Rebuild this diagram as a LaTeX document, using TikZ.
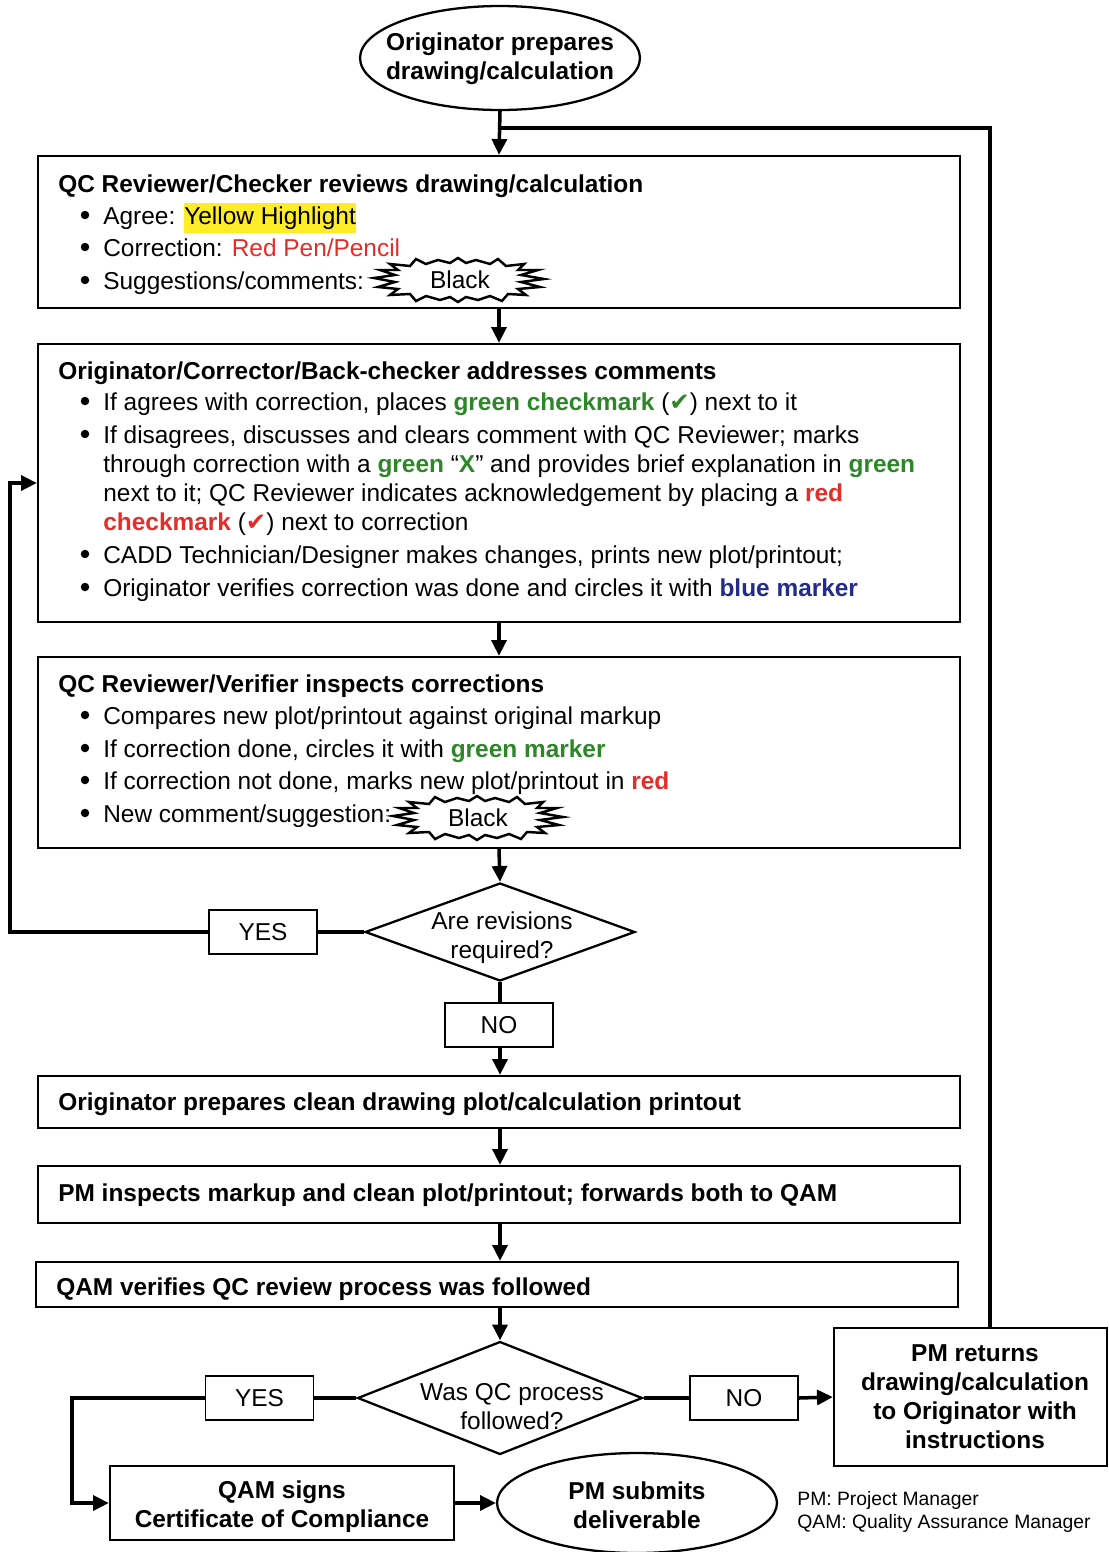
\documentclass[tikz,border=0pt]{standalone}
\usepackage{fontspec}
\setmainfont{Liberation Sans}
\newfontfamily\symfont{DejaVu Sans}
\usetikzlibrary{arrows.meta,shapes.geometric,fit}
\definecolor{qcgreen}{RGB}{45,135,40}
\definecolor{qcred}{RGB}{228,45,40}
\definecolor{qcblue}{RGB}{35,45,135}
\definecolor{qcyellow}{RGB}{255,236,40}
\newcommand{\gB}[1]{\textbf{\color{qcgreen}#1}}
\newcommand{\rB}[1]{\textbf{\color{qcred}#1}}
\newcommand{\bB}[1]{\textbf{\color{qcblue}#1}}
\newcommand{\chk}{{\symfont ✔}}
\newcommand{\hlt}[1]{{\setlength{\fboxsep}{0pt}\colorbox{qcyellow}{\strut #1}}}
% jagged "explosion" outline around a comment label, drawn in pixel units about its centre
\newcommand{\burstoutline}[1]{%
  \draw[line width=1.4pt, line join=miter, shift={(#1)}]
    (-60,-10) -- (-78,-10) -- (-63,-5) -- (-84,-2) -- (-63,2) -- (-80,7) -- (-60,9)
    -- (-68,15) -- (-48,14) -- (-42,21) -- (-32,16) -- (-18,20) -- (-8,17) -- (0,22)
    -- (8,17) -- (20,20) -- (32,16) -- (44,21) -- (50,14) -- (68,15) -- (60,9)
    -- (82,7) -- (63,2) -- (86,-1) -- (63,-5) -- (80,-10) -- (60,-10) -- (66,-16)
    -- (48,-14) -- (40,-21) -- (32,-16) -- (18,-20) -- (8,-17) -- (0,-22) -- (-8,-17)
    -- (-20,-20) -- (-32,-16) -- (-42,-21) -- (-48,-14) -- (-68,-16) -- cycle;}
\begin{document}
\begin{tikzpicture}[x=0.02cm,y=-0.02cm,
  every node/.style={font=\fontsize{13.9}{17}\selectfont},
  box/.style={draw, line width=1.3pt, inner sep=0pt, rectangle},
  txt/.style={anchor=base west, inner sep=0pt},
  blt/.style={circle, fill, inner sep=0pt, minimum size=0.17cm},
  ctr/.style={align=center, inner sep=0pt, font=\fontsize{13.9}{16.5}\selectfont\bfseries},
  oval/.style={draw, ellipse, line width=1.3pt, inner sep=0pt},
  decision/.style={draw, diamond, line width=1.3pt, inner sep=0pt},
  dtext/.style={align=center, inner sep=0pt, font=\fontsize{13.9}{16.5}\selectfont},
  answer/.style={draw, line width=1.1pt, minimum width=2.16cm, minimum height=0.88cm, inner sep=0pt},
  note/.style={anchor=base west, inner sep=0pt, font=\fontsize{11}{13}\selectfont},
  conn/.style={line width=2pt},
  arr/.style={conn, -{Triangle[length=9pt,width=8.5pt]}}
]
\useasboundingbox (0,0) rectangle (1109,1552);

% start
\node[oval, minimum width=5.6cm, minimum height=2.08cm] (start) at (500,58) {};
\node[ctr] (startT) at (500,59) {Originator prepares\\drawing/calculation};

% review box
\node[box, fit={(38,156) (960,308)}] (rev) {};
\node[txt] (revT) at (58,192) {\textbf{QC Reviewer/Checker reviews drawing/calculation}};
\node[blt] (revB1) at (85,215) {};
\node[txt] (revL1) at (103,224) {Agree: \hlt{Yellow Highlight}};
\node[blt] (revB2) at (85,247) {};
\node[txt] (revL2) at (103,256) {Correction: {\color{qcred}Red Pen/Pencil}};
\node[blt] (revB3) at (85,280) {};
\node[txt] (revL3) at (103,289) {Suggestions/comments:};
\node[inner sep=0pt] (revBurst) at (460,280) {Black};
\burstoutline{458,280}

% correction box
\node[box, fit={(38,344) (960,622)}] (cor) {};
\node[txt] (corT) at (58,379) {\textbf{Originator/Corrector/Back-checker addresses comments}};
\node[blt] (corB1) at (85,401) {};
\node[txt] (corL1) at (103,410) {If agrees with correction, places \gB{green checkmark} ({\color{qcgreen}\chk}) next to it};
\node[blt] (corB2) at (85,434) {};
\node[txt] (corL2) at (103,443) {If disagrees, discusses and clears comment with QC Reviewer; marks};
\node[txt] (corL3) at (103,472) {through correction with a \gB{green} “\gB{X}” and provides brief explanation in \gB{green}};
\node[txt] (corL4) at (103,501) {next to it; QC Reviewer indicates acknowledgement by placing a \rB{red}};
\node[txt] (corL5) at (103,530) {\rB{checkmark} ({\color{qcred}\chk}) next to correction};
\node[blt] (corB3) at (85,554) {};
\node[txt] (corL6) at (103,563) {CADD Technician/Designer makes changes, prints new plot/printout;};
\node[blt] (corB4) at (85,587) {};
\node[txt] (corL7) at (103,596) {Originator verifies correction was done and circles it with \bB{blue marker}};

% verification box
\node[box, fit={(38,657) (960,848)}] (ver) {};
\node[txt] (verT) at (58,692) {\textbf{QC Reviewer/Verifier inspects corrections}};
\node[blt] (verB1) at (85,715) {};
\node[txt] (verL1) at (103,724) {Compares new plot/printout against original markup};
\node[blt] (verB2) at (85,748) {};
\node[txt] (verL2) at (103,757) {If correction done, circles it with \gB{green marker}};
\node[blt] (verB3) at (85,780) {};
\node[txt] (verL3) at (103,789) {If correction not done, marks new plot/printout in \rB{red}};
\node[blt] (verB4) at (85,813) {};
\node[txt] (verL4) at (103,822) {New comment/suggestion:};
\node[inner sep=0pt] (verBurst) at (478,818) {Black};
\burstoutline{477,818}

% first decision
\node[decision, minimum width=5.4cm, minimum height=1.96cm] (d1) at (500,932) {};
\node[dtext] (d1T) at (502,938) {Are revisions\\required?};
\node[answer] (yes1) at (263,932) {YES};
\node[answer] (no1) at (499,1025) {NO};

% clean-up steps
\node[box, fit={(38,1076) (960,1128)}] (clean) {};
\node[txt] (cleanT) at (58,1110) {\textbf{Originator prepares clean drawing plot/calculation printout}};
\node[box, fit={(38,1166) (960,1223)}] (pmi) {};
\node[txt] (pmiT) at (58,1201) {\textbf{PM inspects markup and clean plot/printout; forwards both to QAM}};
\node[box, fit={(36,1262) (958,1307)}] (qamv) {};
\node[txt] (qamvT) at (56,1295) {\textbf{QAM verifies QC review process was followed}};

% second decision
\node[decision, minimum width=5.7cm, minimum height=2.26cm] (d2) at (500,1398) {};
\node[dtext] (d2T) at (512,1407) {Was QC process\\followed?};
\node[answer] (yes2) at (259.5,1398) {YES};
\node[answer] (no2) at (744,1398) {NO};

% outcomes
\node[box, fit={(834,1328) (1107,1466)}] (pmret) {};
\node[ctr] (pmretT) at (975,1397) {PM returns\\drawing/calculation\\to Originator with\\instructions};
\node[box, fit={(110,1466) (454,1540)}] (sign) {};
\node[ctr] (signT) at (282,1507) {QAM signs\\Certificate of Compliance};
\node[oval, minimum width=5.6cm, minimum height=2cm] (submit) at (637,1503) {};
\node[ctr] (submitT) at (637,1505) {PM submits\\deliverable};

% legend
\node[note] (note1) at (797,1505) {PM: Project Manager};
\node[note] (note2) at (797,1528) {QAM: Quality Assurance Manager};

% connectors
\coordinate (fb) at (990,128);
\coordinate (loopL) at (10,932);
\coordinate (loopB) at (72,1398);
\draw[arr] (start.south) -- (rev.north);
\draw[conn] (pmret.north -| fb) -- (fb) -- (start.south |- fb);
\draw[arr] (rev.south) -- (cor.north);
\draw[arr] (cor.south) -- (ver.north);
\draw[arr] (ver.south) -- (d1.north);
\draw[conn] (d1.west) -- (yes1.east);
\draw[arr] (yes1.west) -- (loopL) |- (cor.west);
\draw[conn] (d1.south) -- (no1.north -| d1.south);
\draw[arr] (no1.south -| d1.south) -- (clean.north -| d1.south);
\draw[arr] (clean.south -| d1.south) -- (pmi.north -| d1.south);
\draw[arr] (pmi.south -| d1.south) -- (qamv.north -| d1.south);
\draw[arr] (qamv.south -| d2.north) -- (d2.north);
\draw[conn] (d2.west) -- (yes2.east);
\draw[arr] (yes2.west) -- (loopB) |- (sign.west);
\draw[arr] (sign.east) -- (submit.west);
\draw[conn] (d2.east) -- (no2.west);
\draw[arr] (no2.east) -- (pmret.west);
\end{tikzpicture}
\end{document}
